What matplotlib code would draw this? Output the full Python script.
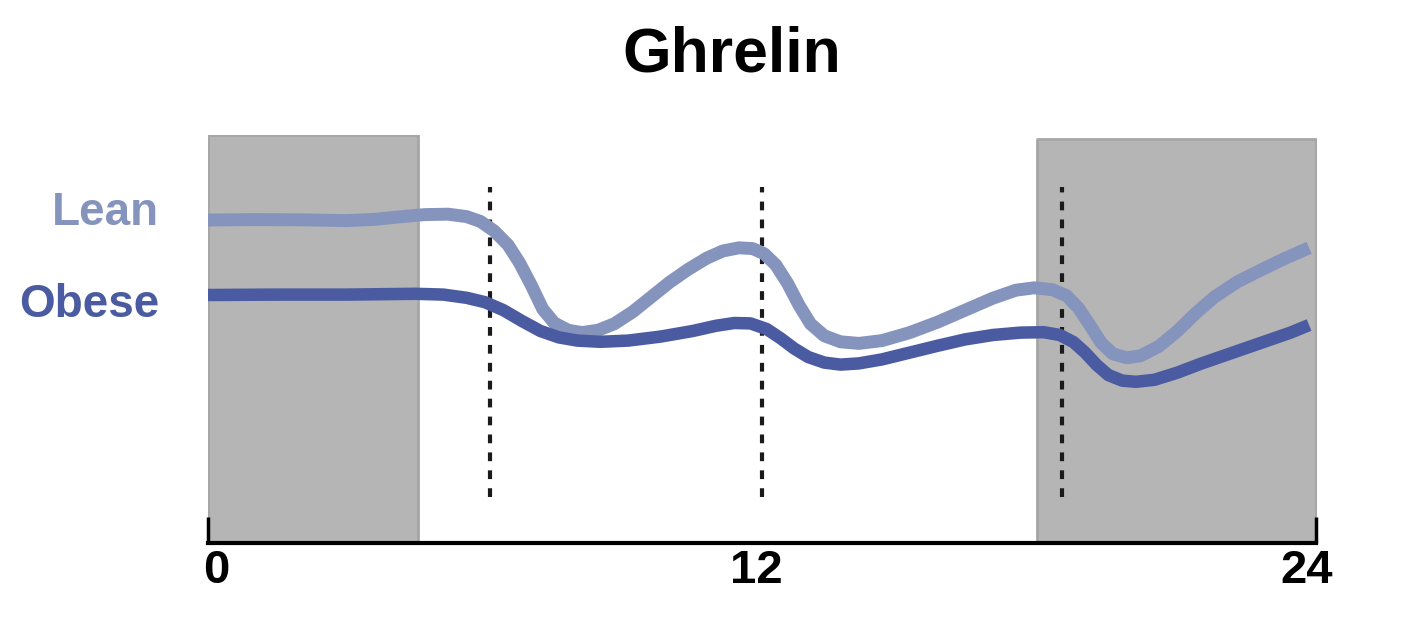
import matplotlib.pyplot as plt
from matplotlib.transforms import ScaledTranslation

plt.rcParams['font.family'] = ['Liberation Sans', 'DejaVu Sans']

# 時刻 (h) と グレリン値 (任意単位) - 図から読み取り
lean_t = [0, 1.0, 2.0, 3.0, 3.6, 4.2, 4.7, 5.2, 5.6, 5.9, 6.2, 6.5, 6.75, 7.0, 7.25,
          7.5, 7.8, 8.1, 8.45, 8.8, 9.2, 9.6, 10.0, 10.4, 10.8, 11.15, 11.5, 11.8,
          12.05, 12.3, 12.55, 12.8, 13.05, 13.35, 13.7, 14.1, 14.6, 15.2, 15.8,
          16.4, 17.0, 17.5, 17.9, 18.3, 18.6, 18.85, 19.1, 19.35, 19.6, 19.9,
          20.2, 20.6, 21.0, 21.4, 21.8, 22.3, 22.8, 23.3, 23.85]
lean_v = [80.75, 80.85, 80.8, 80.6, 80.9, 81.6, 82.1, 82.2, 81.6, 80.4, 78, 74.5, 70, 64.5, 58.5,
          55, 53.2, 52.6, 53.2, 54.8, 57.8, 61.5, 65.2, 68.4, 71.2, 73, 73.8, 73.6,
          72.3, 69.5, 65, 59.5, 54.8, 51.8, 50.3, 49.9, 50.6, 52.6, 55.2,
          58.2, 61.2, 63.2, 63.8, 63.3, 61.8, 58.8, 54.5, 50, 47.3, 46.3,
          46.8, 49.2, 53, 57.5, 61.5, 65.3, 68.2, 71, 73.8]

obese_t = [0, 1.5, 3.0, 4.5, 5.1, 5.6, 6.0, 6.4, 6.8, 7.2, 7.6, 8.0, 8.5, 9.1, 9.8,
           10.5, 11.0, 11.4, 11.75, 12.1, 12.4, 12.7, 13.0, 13.35, 13.7, 14.1, 14.6,
           15.2, 15.8, 16.4, 17.0, 17.6, 18.1, 18.45, 18.75, 19.0, 19.25, 19.5, 19.8,
           20.1, 20.5, 21.0, 21.5, 22.0, 22.5, 23.0, 23.45, 23.85]
obese_v = [62, 62.1, 62.1, 62.3, 62.1, 61.3, 60.2, 58.2, 55.5, 53, 51.4, 50.6, 50.3, 50.6, 51.6,
           53, 54.3, 55, 54.9, 53.5, 51.2, 48.6, 46.5, 45.1, 44.6, 44.9, 45.9,
           47.6, 49.3, 50.9, 52, 52.6, 52.7, 52, 50.2, 47.6, 44.5, 42, 40.6,
           40.3, 40.8, 42.6, 44.8, 46.8, 48.8, 50.8, 52.6, 54.5]

# 暗期 (睡眠) と 食事時刻
night = [(0, 4.55, 102), (17.95, 24, 101)]
meals = [6.1, 12, 18.5]
xticks = [0, 12, 24]

lean_col = '#8594bd'
obese_col = '#4b5ba1'

fig = plt.figure(figsize=(14.21, 6.38), dpi=100)
ax = fig.add_axes([208 / 1421, 95 / 638, 1108 / 1421, 408 / 638])

# 暗期の灰色ボックス
for t0, t1, top in night:
    ax.fill_between([t0, t1], 0, top, facecolor='#b5b5b5', edgecolor='#a6a6a6',
                    linewidth=2, zorder=1)

# 食事の点線
for m in meals:
    ax.plot([m, m], [11.5, 89], color='#1a1a1a', linewidth=3,
            dashes=(2.1, 2.2), zorder=2)

ax.plot(lean_t, lean_v, color=lean_col, linewidth=9.3, solid_capstyle='butt',
        solid_joinstyle='round', zorder=3)
ax.plot(obese_t, obese_v, color=obese_col, linewidth=9.0, solid_capstyle='butt',
        solid_joinstyle='round', zorder=4)

ax.set_xlim(0, 24)
ax.set_ylim(0, 102)
for s in ['top', 'right', 'left']:
    ax.spines[s].set_visible(False)
ax.spines['bottom'].set_linewidth(3)
ax.spines['bottom'].set_zorder(5)
ax.set_yticks([])
ax.set_xticks(xticks)
ax.set_xticklabels([str(x) for x in xticks], fontsize=34, fontweight='bold')
ax.tick_params(axis='x', direction='in', length=19, width=2.5, pad=4)
ax.xaxis.get_major_ticks()[1].tick1line.set_visible(False)

# ラベル位置の微調整
offsets = [6, -4, -7]
for lab, dx in zip(ax.get_xticklabels(), offsets):
    lab.set_transform(lab.get_transform() + ScaledTranslation(dx / 72, 0, fig.dpi_scale_trans))

fig.text(0.515, 1 - 71 / 638, 'Ghrelin', ha='center', va='baseline',
         fontsize=45, fontweight='bold', color='black')
fig.text(159 / 1421, 1 - 225 / 638, 'Lean', ha='right', va='baseline',
         fontsize=33, fontweight='bold', color=lean_col)
fig.text(159 / 1421, 1 - 317 / 638, 'Obese', ha='right', va='baseline',
         fontsize=33, fontweight='bold', color=obese_col)

fig.savefig('out.png', dpi=100)
